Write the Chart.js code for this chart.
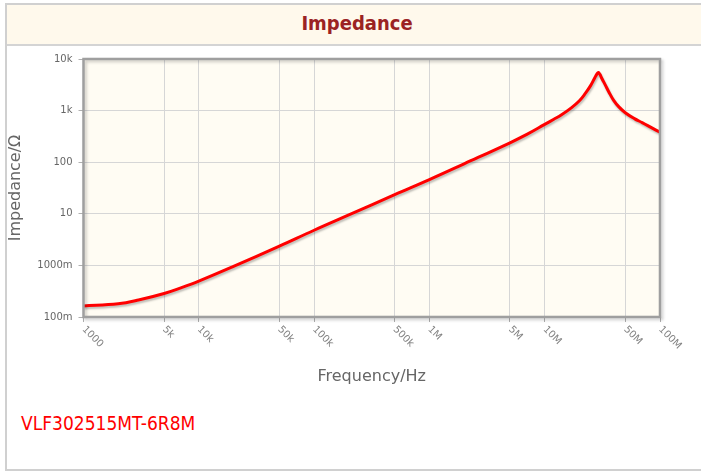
<!DOCTYPE html>
<html>
<head>
<meta charset="utf-8">
<title>Impedance</title>
<script src="https://cdn.jsdelivr.net/npm/chart.js@4.4.0/dist/chart.umd.min.js"></script>
<style>
    body { margin: 0; background: #fff; }
    #box {
        position: absolute; left: 5px; top: 3px; width: 700px; height: 464px;
        border: 2px solid #d0d0d0; border-right: none; background: #fff;
    }
    #header {
        height: 39px; background: #fff9ec; border-bottom: 2px solid #d4d4d4;
        text-align: center; line-height: 37px;
        font-family: "DejaVu Sans Condensed", "DejaVu Sans"; font-stretch: condensed;
        font-weight: bold; font-size: 20px; color: #9b2323;
    }
    #part {
        position: absolute; left: 21px; top: 412px;
        font-family: "DejaVu Sans Condensed", "DejaVu Sans"; font-stretch: condensed;
        font-size: 19px; color: #ff0000;
    }
    #impChart { position: absolute; left: 0; top: 0; }
</style>
</head>
<body>
<div id="box"><div id="header">Impedance</div></div>
<div id="part">VLF302515MT-6R8M</div>
<canvas id="impChart" width="701" height="471"></canvas>

<script>
// frequency (Hz) and impedance (ohm)
var freq = [1000, 2000, 3000, 5000, 7000, 10000, 20000, 50000, 100000, 200000, 500000,
            1e6, 2e6, 5e6, 7e6, 1e7, 1.2e7, 1.4e7, 1.7e7, 2e7, 2.25e7, 2.5e7, 2.7e7, 2.85e7, 2.92e7,
            3.0e7, 3.15e7, 3.35e7, 3.6e7, 3.95e7, 4.4e7, 5e7, 6e7, 7e7, 8.5e7, 1e8];
var impedance = [0.164, 0.18, 0.213, 0.285, 0.367, 0.495, 0.955, 2.36, 4.8, 9.5, 23.5,
                 46, 93, 238, 345, 540, 680, 830, 1130, 1550, 2150, 3050, 4200, 5200, 5450,
                 5100, 4100, 3150, 2300, 1600, 1180, 910, 700, 585, 462, 380];

var xTicks = [1000, 5000, 10000, 50000, 100000, 500000, 1e6, 5e6, 1e7, 5e7, 1e8];
var xLabels = ["1000", "5k", "10k", "50k", "100k", "500k", "1M", "5M", "10M", "50M", "100M"];
var yTicks = [0.1, 1, 10, 100, 1000, 10000];
var yLabels = ["100m", "1000m", "10", "100", "1k", "10k"];

var points = freq.map(function(f, i) { return { x: f, y: impedance[i] }; });

// plot background, border and shadow
var plotFrame = {
    id: 'plotFrame',
    beforeDraw: function(chart) {
        var a = chart.chartArea, ctx = chart.ctx;
        ctx.save();
        ctx.fillStyle = '#fffcf3';
        ctx.fillRect(a.left, a.top, a.right - a.left, a.bottom - a.top);
        ctx.restore();
    },
    afterDraw: function(chart) {
        var a = chart.chartArea, ctx = chart.ctx;
        ctx.save();
        ctx.shadowColor = 'rgba(0,0,0,0.2)';
        ctx.shadowOffsetX = 2;
        ctx.shadowOffsetY = 2;
        ctx.shadowBlur = 3;
        ctx.strokeStyle = '#9f9f9f';
        ctx.lineWidth = 2.5;
        ctx.strokeRect(a.left, a.top, a.right - a.left, a.bottom - a.top);
        ctx.restore();

        // slanted x tick labels
        var xs = chart.scales.x;
        ctx.save();
        ctx.fillStyle = '#808080';
        ctx.font = '10px "DejaVu Sans"';
        ctx.textAlign = 'left';
        ctx.textBaseline = 'middle';
        xTicks.forEach(function(v, i) {
            var px = xs.getPixelForValue(v);
            ctx.save();
            ctx.translate(px, a.bottom + 11);
            ctx.rotate(Math.PI / 4);
            ctx.fillText(xLabels[i], 0, 0);
            ctx.restore();
        });
        ctx.restore();
    },
    beforeDatasetDraw: function(chart) {
        var ctx = chart.ctx;
        ctx.save();
        ctx.shadowColor = 'rgba(0,0,0,0.25)';
        ctx.shadowOffsetX = 1;
        ctx.shadowOffsetY = 2;
        ctx.shadowBlur = 2;
    },
    afterDatasetDraw: function(chart) {
        chart.ctx.restore();
    }
};

var ctx = document.getElementById('impChart').getContext('2d');
var impChart = new Chart(ctx, {
    type: 'line',
    data: {
        datasets: [{
            label: 'VLF302515MT-6R8M',
            data: points,
            borderColor: '#ff0000',
            borderWidth: 3,
            pointRadius: 0,
            fill: false,
            tension: 0.4
        }]
    },
    options: {
        responsive: false,
        animation: false,
        devicePixelRatio: 1,
        layout: { padding: { left: 6, top: 59, right: 41, bottom: 85 } },
        plugins: { legend: { display: false }, tooltip: { enabled: false } },
        scales: {
            x: {
                type: 'logarithmic',
                min: 1000,
                max: 1e8,
                afterBuildTicks: function(s) { s.ticks = xTicks.map(function(v) { return { value: v }; }); },
                afterFit: function(s) { s.height = 69; },
                ticks: { display: false },
                grid: { color: '#d6d6d6', tickColor: '#b0b0b0', tickLength: 5 },
                border: { display: false },
                title: {
                    display: true, text: 'Frequency/Hz', color: '#666', padding: 0,
                    font: { family: 'DejaVu Sans', size: 16 }
                }
            },
            y: {
                type: 'logarithmic',
                min: 0.1,
                max: 10000,
                afterBuildTicks: function(s) { s.ticks = yTicks.map(function(v) { return { value: v }; }); },
                afterFit: function(s) { s.width = 77.5; },
                ticks: {
                    color: '#666', padding: 6,
                    font: { family: 'DejaVu Sans', size: 10 },
                    callback: function(v) { var i = yTicks.indexOf(v); return i >= 0 ? yLabels[i] : ''; }
                },
                grid: { color: '#d6d6d6', tickColor: '#b0b0b0', tickLength: 5 },
                border: { display: false },
                title: {
                    display: true, text: 'Impedance/Ω', color: '#666', padding: 0,
                    font: { family: 'DejaVu Sans', size: 16 }
                }
            }
        }
    },
    plugins: [plotFrame]
});
</script>
</body>
</html>
